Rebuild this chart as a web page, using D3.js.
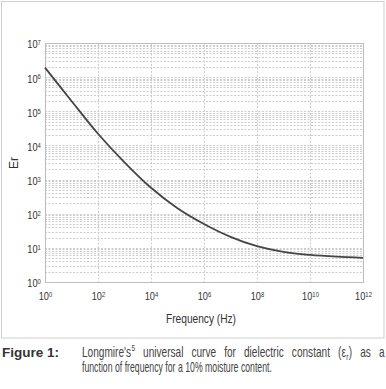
<html lang="en">
<head>
<style>
body { margin: 0; background: #fff; }
svg { display: block; }
text { font-family: "Liberation Sans Narrow", "Arial Narrow", "Liberation Sans", sans-serif; }
</style>
</head>
<body>
<script src="https://d3js.org/d3.v7.min.js"></script>
<script>
// Longmire universal curve
const frequency = [1, 1e1, 1e2, 1e3, 1e4, 1e5, 1e6, 1e7, 1e8, 1e9, 1e10, 1e11, 1e12];
const permittivity = [1.9e6, 2.0e5, 2.2e4, 3200, 575, 145, 50, 21, 11.2, 7.6, 6.2, 5.5, 5.1];
const xTicks = [1, 1e2, 1e4, 1e6, 1e8, 1e10, 1e12];
const yTicks = [1, 1e1, 1e2, 1e3, 1e4, 1e5, 1e6, 1e7];
// caption line 1, word by word; "^" marks a superscript piece, "_" a subscript one
const captionLine1 = [["Longmire's", "^5"], ["universal"], ["curve"], ["for"], ["dielectric"],
  ["constant"], ["(ε", "_r", ")"], ["as"], ["a"]];

const W = 386, H = 389;
const plot = {left: 45, right: 363, top: 43, bottom: 282};
const squeeze = 0.72; // no narrow font installed, so squeeze text horizontally

const svg = d3.select("body").append("svg")
  .attr("width", W).attr("height", H);

// outer frame
svg.append("rect")
  .attr("x", 1.5).attr("y", 1.5)
  .attr("width", 382.5).attr("height", 336.5)
  .attr("fill", "none").attr("stroke", "#cfcfcf").attr("stroke-width", 1);

const x = d3.scaleLog().domain([1, 1e12]).range([plot.left, plot.right]);
const y = d3.scaleLog().domain([1, 1e7]).range([plot.bottom, plot.top]);

// grid: every minor decade step horizontally, even decades vertically
const yGrid = [];
for (let e = 0; e < 7; e++) for (let m = 2; m <= 9; m++) yGrid.push(m * Math.pow(10, e));
const grid = svg.append("g");
grid.selectAll("line.h").data(yGrid.concat(yTicks)).enter().append("line")
  .attr("x1", plot.left).attr("x2", plot.right)
  .attr("y1", d => Math.round(y(d)) + 0.5).attr("y2", d => Math.round(y(d)) + 0.5)
  .attr("stroke", "#cdcdcd").attr("stroke-dasharray", "2,1.5");
grid.selectAll("line.v").data(xTicks).enter().append("line")
  .attr("y1", plot.top).attr("y2", plot.bottom)
  .attr("x1", d => Math.round(x(d)) + 0.5).attr("x2", d => Math.round(x(d)) + 0.5)
  .attr("stroke", "#cdcdcd").attr("stroke-dasharray", "2,1.5");

svg.append("rect")
  .attr("x", plot.left + 0.5).attr("y", plot.top + 0.5)
  .attr("width", plot.right - plot.left).attr("height", plot.bottom - plot.top)
  .attr("fill", "none").attr("stroke", "#bdbdbd");

function powLabel(sel) {
  sel.selectAll(".tick text").each(function(d) {
    const t = d3.select(this).text("");
    t.append("tspan").text("10");
    t.append("tspan").attr("dy", "-0.45em").attr("font-size", "7px")
      .text(Math.round(Math.log10(d)));
    t.attr("transform", "scale(0.84,1)");
  });
}

const xAxis = svg.append("g")
  .attr("transform", "translate(0," + plot.bottom + ")")
  .call(d3.axisBottom(x).tickValues(xTicks).tickSize(0).tickPadding(10));
xAxis.select(".domain").remove();
xAxis.selectAll("text").attr("font-size", "11px").attr("fill", "#333");
powLabel(xAxis);

const yAxis = svg.append("g")
  .attr("transform", "translate(" + plot.left + ",0)")
  .call(d3.axisLeft(y).tickValues(yTicks).tickSize(0).tickPadding(5));
yAxis.select(".domain").remove();
yAxis.selectAll("text").attr("font-size", "11px").attr("fill", "#333").attr("dy", "0.45em");
powLabel(yAxis);

svg.append("text")
  .attr("x", 166).attr("y", 323)
  .attr("font-size", "12px").attr("fill", "#333")
  .attr("textLength", 70).attr("lengthAdjust", "spacingAndGlyphs")
  .text("Frequency (Hz)");
svg.append("text")
  .attr("transform", "translate(18,163) rotate(-90)")
  .attr("text-anchor", "middle").attr("font-size", "12px").attr("fill", "#333")
  .text("Er");

// curve
const line = d3.line()
  .x((d, i) => x(frequency[i]))
  .y(d => y(d))
  .curve(d3.curveCatmullRom.alpha(0.5));
svg.append("path")
  .datum(permittivity)
  .attr("d", line)
  .attr("fill", "none").attr("stroke", "#454545").attr("stroke-width", 1.8);

// caption
svg.append("text")
  .attr("x", 2).attr("y", 357)
  .attr("font-size", "13.5px").attr("font-weight", "bold").attr("fill", "#333")
  .attr("textLength", 57).attr("lengthAdjust", "spacingAndGlyphs")
  .text("Figure 1:");

const cap = svg.append("g").attr("fill", "#444");
// each piece is its own text so nothing overlaps; line 1 is justified between 82 and 385
const wordW = [];
const pieces = [];
captionLine1.forEach((word, wi) => {
  let w = 0;
  word.forEach(p => {
    const small = p[0] === "^" || p[0] === "_";
    const el = cap.append("text")
      .attr("font-size", small ? "9px" : "14px")
      .text(small ? p.slice(1) : p);
    const len = el.node().getComputedTextLength() * squeeze;
    pieces.push({el: el, wi: wi, off: w, base: p[0] === "^" ? 351 : p[0] === "_" ? 360 : 357});
    w += len + 0.4;
  });
  wordW.push(w);
});
const gap = (385 - 82 - d3.sum(wordW)) / (wordW.length - 1);
const starts = [];
let cx = 82;
wordW.forEach(w => { starts.push(cx); cx += w + gap; });
pieces.forEach(p => p.el.attr("transform",
  "translate(" + (starts[p.wi] + p.off) + "," + p.base + ") scale(" + squeeze + ",1)"));

const line2 = cap.append("text")
  .attr("font-size", "14px")
  .text("function of frequency for a 10% moisture content.");
const k2 = 190 / line2.node().getComputedTextLength();
line2.attr("transform", "translate(82,372) scale(" + k2 + ",1)");
</script>
</body>
</html>
